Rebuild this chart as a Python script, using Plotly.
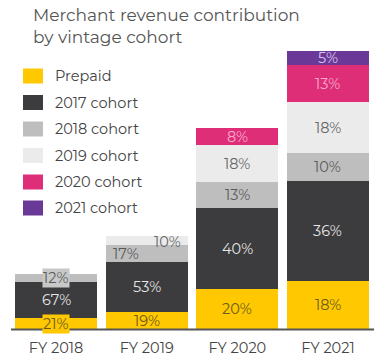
import plotly.graph_objects as go

years = ["FY 2018", "FY 2019", "FY 2020", "FY 2021"]
series_names = ["Prepaid", "2017 cohort", "2018 cohort", "2019 cohort", "2020 cohort", "2021 cohort"]

# segment sizes (relative revenue units)
prepaid = [11, 17, 40, 48]
c2017 = [36, 50, 81, 100]
c2018 = [8, 17, 26, 28]
c2019 = [None, 9, 37, 51]
c2020 = [None, None, 17, 37]
c2021 = [None, None, None, 14]

# share labels (%)
prepaid_pct = [21, 19, 20, 18]
c2017_pct = [67, 53, 40, 36]
c2018_pct = [12, 17, 13, 10]
c2019_pct = [None, 10, 18, 18]
c2020_pct = [None, None, 8, 13]
c2021_pct = [None, None, None, 5]

colors = ["#FFC800", "#3C3C3E", "#BEBEBE", "#EBEBEB", "#DE2E78", "#6A3896"]
text_colors = ["#6B5A1E", "#E6E6E6", "#5A5A5A", "#666666", "#F7AACB", "#D9C6F2"]

values = [prepaid, c2017, c2018, c2019, c2020, c2021]
pcts = [prepaid_pct, c2017_pct, c2018_pct, c2019_pct, c2020_pct, c2021_pct]

FONT = "Montserrat, Lato, sans-serif"
W, H = 382, 359
fig = go.Figure()
for name, vals, col in zip(series_names, values, colors):
    fig.add_trace(go.Bar(
        x=years, y=vals, name=name,
        marker=dict(color=col, line=dict(width=0)),
        showlegend=False, hoverinfo="x+y+name",
    ))

annotations = []
# segment labels placed at segment midpoints in data coordinates
base = [0, 0, 0, 0]
for si, (vals, pc, col, tc) in enumerate(zip(values, pcts, colors, text_colors)):
    for i, (v, p) in enumerate(zip(vals, pc)):
        if v is None:
            continue
        mid = base[i] + v / 2
        base[i] += v
        ann = dict(x=years[i], y=mid, xref="x", yref="y", text=f"{p}%", showarrow=False,
                   font=dict(family=FONT, size=14.5, color=tc), xanchor="center", yanchor="middle")
        if i == 0 and si in (0, 2):
            ann.update(bgcolor=col if si == 0 else "#C8C8C8", borderpad=0)
        if i == 1 and si == 2:
            ann.update(xshift=-21)
        if i == 1 and si == 3:
            ann.update(xshift=21, yshift=-1)
        annotations.append(ann)

# manual legend
shapes = []
leg_y = [76, 102.5, 129, 155.5, 182, 208]
for name, col, yy in zip(series_names, colors, leg_y):
    shapes.append(dict(type="rect", xref="paper", yref="paper",
                       x0=23 / W, x1=43 / W, y0=1 - (yy + 7.5) / H, y1=1 - (yy - 7.5) / H,
                       fillcolor=col, line=dict(width=0), layer="above"))
    annotations.append(dict(text=name, xref="paper", yref="paper", x=53 / W, y=1 - yy / H,
                            xanchor="left", yanchor="middle", showarrow=False,
                            font=dict(family=FONT, size=14.5, color="#444444")))

annotations.append(dict(text="Merchant revenue contribution<br>by vintage cohort", xref="paper", yref="paper",
                        x=31 / W, y=1 - 3 / H, xanchor="left", yanchor="top", showarrow=False, align="left",
                        font=dict(family=FONT, size=17, color="#555555")))

# baseline
shapes.append(dict(type="line", xref="paper", yref="paper", x0=11 / W, x1=374 / W,
                   y0=1 - 329.5 / H, y1=1 - 329.5 / H, line=dict(color="#555555", width=2), layer="above"))

fig.update_layout(
    width=W, height=H,
    margin=dict(l=0, r=0, t=0, b=0),
    barmode="stack", bargap=0.094,
    plot_bgcolor="white", paper_bgcolor="white",
    template="none",
    xaxis=dict(domain=[10.75 / W, 373.25 / W], showgrid=False, zeroline=False, showline=False,
               ticks="outside", ticklen=6, tickcolor="rgba(0,0,0,0)", automargin=False,
               tickfont=dict(family=FONT, size=14.5, color="#444444")),
    yaxis=dict(domain=[30 / H, 310 / H], range=[0, 280], visible=False, automargin=False),
    shapes=shapes, annotations=annotations,
)

fig.write_html("out.html", config={"displayModeBar": False},
               post_script="document.body.style.margin='0';document.body.style.overflow='hidden';")
